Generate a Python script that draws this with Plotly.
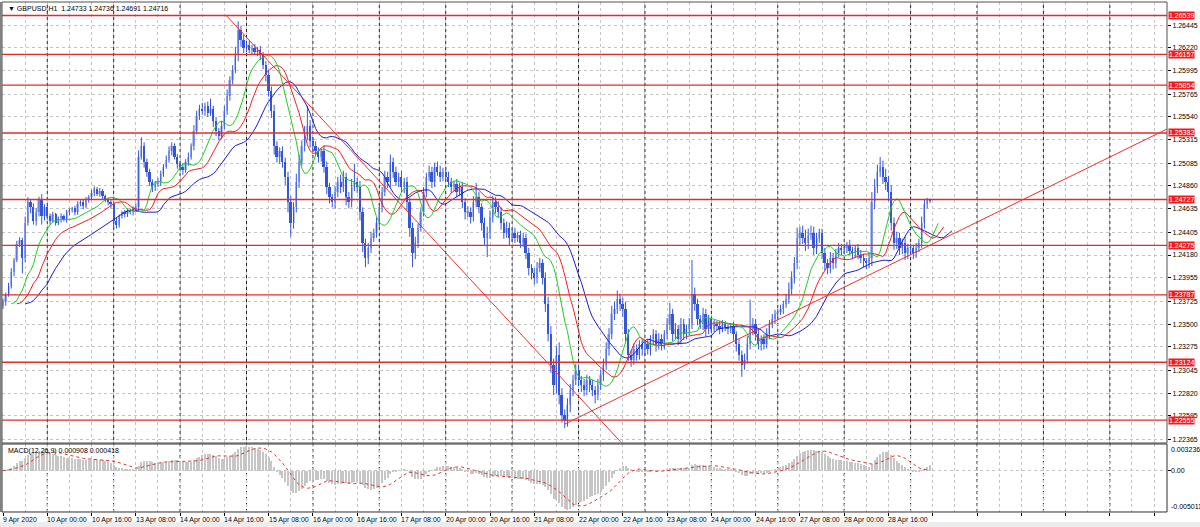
import numpy as np
import pandas as pd
import plotly.graph_objects as go

# ---------------- data (GBPUSD H1, prices as points above 1.20000) ----------------
BASE = 1.2
first_open_pts = 3680
close_pts = [
    3720, 3790, 3880, 4010, 4130, 4290, 4330, 4150,
    4500, 4700, 4650, 4520, 4600, 4720, 4560, 4650,
    4560, 4520, 4580, 4500, 4540, 4560, 4530, 4600,
    4620, 4640, 4600, 4680, 4700, 4660, 4720, 4750,
    4790, 4830, 4780, 4810, 4760, 4720, 4700, 4680,
    4520, 4480, 4560, 4600, 4580, 4620, 4600, 4640,
    4650, 5150, 5250, 5100, 5000, 4900, 4850, 4880,
    4900, 4980, 5050, 5120, 5200, 5250, 5150, 5080,
    5050, 5020, 5100, 5150, 5250, 5400, 5550, 5620,
    5600, 5650, 5580, 5620, 5500, 5400, 5350, 5450,
    5600, 5750, 5900, 6000, 6150, 6400, 6300, 6220,
    6250, 6200, 6220, 6180, 6200, 6150, 6050, 5950,
    5800, 5600, 5250, 5150, 5200, 5100, 4950, 4700,
    4500, 4650, 4900, 5100, 5250, 5350, 5450, 5300,
    5250, 5200, 5150, 5200, 5050, 4850, 4750, 4700,
    4800, 4900, 4850, 4950, 4750, 4700, 4850, 4900,
    4850, 4600, 4300, 4150, 4250, 4350, 4400, 4500,
    4650, 4800, 4950, 4900, 5100, 5000, 4900, 4950,
    4850, 4900, 4700, 4450, 4200, 4300, 4450, 4600,
    4800, 4950, 5000, 4900, 5050, 5000, 4950, 5000,
    4950, 4900, 4850, 4880, 4800, 4850, 4700, 4600,
    4600, 4550, 4700, 4750, 4650, 4500, 4350, 4400,
    4550, 4700, 4650, 4600, 4500, 4400, 4450, 4350,
    4400, 4350, 4380, 4300, 4350, 4200, 4050, 4000,
    3950, 4050, 4100, 3950, 3700, 3400, 3100, 2900,
    3200, 2800, 2600, 2550, 2700, 2850, 2950, 3050,
    2950, 2900, 2850, 2950, 2900, 2850, 2800, 2900,
    3000, 3100, 3250, 3400, 3600, 3650, 3750, 3700,
    3650, 3400, 3200, 3150, 3250, 3200, 3300, 3250,
    3300, 3250, 3350, 3400, 3300, 3350, 3300, 3400,
    3500, 3600, 3400, 3450, 3350, 3500, 3400, 3450,
    3500, 3800, 3700, 3550, 3500, 3600, 3450, 3550,
    3450, 3500, 3480, 3450, 3500, 3470, 3450, 3480,
    3400, 3300, 3200, 3100, 3150, 3300, 3450, 3500,
    3400, 3300, 3350, 3300, 3400, 3500, 3550, 3600,
    3620, 3650, 3700, 3750, 3850, 3950, 4100, 4350,
    4400, 4350, 4300, 4380, 4400, 4250, 4350, 4400,
    4200, 4100, 4050, 4150, 4100, 4200, 4250, 4230,
    4250, 4280, 4220, 4200, 4250, 4180, 4150, 4120,
    4100, 4150, 4700, 4850, 5000, 5050, 4950, 4900,
    4800, 4500, 4300, 4350, 4250, 4300, 4200, 4250,
    4250, 4200, 4250, 4300, 4500, 4680, 4733, 4716,
]
upper_wick_pts = [
    30, 20, 25, 40, 20, 30, 25, 20,
    60, 50, 30, 40, 45, 35, 60, 30,
    20, 30, 25, 15, 20, 30, 20, 25,
    20, 15, 25, 30, 20, 25, 30, 20,
    30, 25, 20, 30, 20, 15, 25, 20,
    30, 25, 20, 15, 25, 20, 15, 20,
    40, 60, 90, 40, 30, 30, 25, 30,
    40, 30, 25, 40, 50, 40, 30, 25,
    20, 30, 25, 40, 30, 60, 50, 40,
    60, 30, 40, 100, 30, 40, 30, 50,
    50, 60, 40, 50, 80, 80, 40, 50,
    30, 40, 30, 40, 30, 40, 30, 40,
    50, 40, 60, 50, 40, 50, 40, 50,
    60, 50, 80, 70, 60, 100, 200, 60,
    40, 50, 40, 30, 60, 50, 40, 30,
    60, 50, 70, 60, 40, 50, 80, 180,
    40, 60, 50, 40, 50, 60, 40, 50,
    40, 50, 60, 50, 70, 40, 50, 40,
    60, 40, 50, 40, 50, 60, 40, 50,
    50, 40, 60, 50, 40, 50, 60, 40,
    40, 50, 40, 30, 50, 40, 50, 40,
    60, 50, 60, 140, 50, 40, 50, 60,
    70, 60, 50, 60, 50, 40, 60, 50,
    40, 50, 30, 40, 50, 40, 50, 40,
    50, 60, 50, 40, 60, 70, 80, 60,
    80, 120, 70, 60, 70, 60, 50, 60,
    50, 40, 60, 50, 40, 50, 40, 60,
    50, 60, 70, 60, 80, 70, 80, 50,
    60, 70, 50, 40, 60, 50, 40, 50,
    40, 50, 40, 50, 40, 60, 50, 40,
    60, 110, 50, 60, 40, 60, 50, 40,
    60, 330, 60, 50, 40, 60, 50, 40,
    30, 40, 30, 50, 40, 30, 40, 30,
    40, 30, 50, 40, 60, 80, 290, 60,
    50, 60, 40, 50, 60, 40, 50, 40,
    30, 40, 30, 50, 60, 70, 60, 100,
    60, 70, 80, 60, 70, 60, 50, 40,
    40, 50, 40, 60, 50, 40, 50, 40,
    40, 30, 50, 40, 30, 40, 50, 40,
    30, 40, 100, 80, 70, 95, 60, 80,
    60, 70, 50, 60, 50, 40, 60, 40,
    40, 30, 50, 40, 60, 50, 10, 3,
]
lower_wick_pts = [
    30, 40, 20, 30, 40, 20, 30, 150,
    40, 30, 60, 40, 50, 40, 80, 40,
    30, 40, 20, 30, 25, 40, 20, 30,
    30, 20, 30, 25, 20, 30, 20, 25,
    25, 30, 20, 25, 30, 20, 30, 40,
    70, 40, 30, 20, 30, 25, 20, 30,
    30, 40, 30, 60, 50, 40, 50, 40,
    30, 40, 30, 20, 30, 40, 30, 50,
    40, 50, 30, 40, 30, 40, 30, 40,
    40, 50, 40, 30, 60, 50, 40, 30,
    30, 40, 50, 40, 30, 60, 70, 50,
    40, 30, 40, 30, 40, 50, 40, 60,
    60, 70, 80, 60, 70, 60, 80, 100,
    140, 60, 50, 60, 40, 50, 40, 60,
    50, 40, 60, 50, 60, 70, 60, 50,
    60, 50, 60, 50, 80, 60, 50, 40,
    60, 80, 90, 90, 60, 50, 40, 50,
    40, 50, 40, 60, 50, 60, 40, 50,
    50, 60, 80, 90, 140, 60, 50, 40,
    40, 50, 40, 60, 50, 40, 50, 40,
    40, 50, 60, 40, 50, 40, 60, 70,
    50, 60, 40, 50, 60, 80, 70, 190,
    60, 50, 60, 50, 70, 60, 50, 70,
    40, 50, 40, 50, 40, 60, 70, 60,
    60, 50, 40, 60, 80, 70, 80, 100,
    80, 90, 70, 75, 60, 70, 60, 50,
    60, 70, 60, 50, 70, 60, 80, 50,
    50, 60, 50, 60, 50, 60, 50, 70,
    80, 70, 60, 70, 50, 60, 50, 60,
    60, 50, 60, 50, 70, 50, 60, 50,
    50, 60, 70, 50, 60, 50, 60, 50,
    60, 50, 70, 60, 50, 60, 70, 50,
    40, 30, 40, 50, 30, 40, 50, 40,
    60, 70, 60, 120, 50, 40, 50, 60,
    60, 50, 60, 50, 40, 50, 40, 50,
    40, 30, 50, 40, 50, 60, 50, 60,
    70, 60, 80, 60, 50, 70, 60, 50,
    60, 70, 60, 50, 60, 50, 40, 50,
    40, 50, 40, 60, 50, 40, 50, 60,
    60, 50, 80, 70, 60, 50, 70, 80,
    90, 80, 70, 60, 70, 60, 70, 60,
    50, 60, 50, 40, 50, 60, 40, 25,
]

time_labels = ["9 Apr 2020", "10 Apr 00:00", "10 Apr 16:00", "13 Apr 08:00", "14 Apr 00:00",
               "14 Apr 16:00", "15 Apr 08:00", "16 Apr 00:00", "16 Apr 16:00", "17 Apr 08:00",
               "20 Apr 00:00", "20 Apr 16:00", "21 Apr 08:00", "22 Apr 00:00", "22 Apr 16:00",
               "23 Apr 08:00", "24 Apr 00:00", "24 Apr 16:00", "27 Apr 08:00", "28 Apr 00:00",
               "28 Apr 16:00"]
label_step = 16
day_start_bar = 16  # first midnight bar (10 Apr 00:00)

level_values = [1.26539, 1.26157, 1.25854, 1.25382, 1.24727, 1.24275, 1.23787, 1.23124, 1.22555]
price_ticks = [1.22365, 1.22595, 1.22820, 1.23045, 1.23275, 1.23500, 1.23725, 1.23955, 1.24180,
               1.24405, 1.24635, 1.24860, 1.25085, 1.25315, 1.25540, 1.25765, 1.25995, 1.26220, 1.26445]
macd_scale_labels = [0.003236, 0.0, -0.005011]

trend_down_bar = [80.5, 223.2]
trend_down_price = [1.26545, 1.22340]
trend_up_bar = [203.1, 420.66]
trend_up_price = [1.22516, 1.25421]

title_text = "▼ GBPUSD,H1  1.24733 1.24736 1.24691 1.24716"
macd_text = "MACD(12,26,9) 0.000908 0.000418"

# ---------------- derived ----------------
n = len(close_pts)
idx = np.arange(n)
close = BASE + np.array(close_pts) / 1e5
opn = np.concatenate([[BASE + first_open_pts / 1e5], close[:-1]])
top = np.maximum(opn, close)
bot = np.minimum(opn, close)
high = top + np.array(upper_wick_pts) / 1e5
low = bot - np.array(lower_wick_pts) / 1e5
body = np.maximum(top - bot, 0.00004)
up = close >= opn

median = pd.Series((high + low) / 2)
def smma(s, p):
    return s.ewm(alpha=1.0 / p, adjust=False).mean().values

jaw, teeth, lips = smma(median, 13), smma(median, 8), smma(median, 5)

cs = pd.Series(close)
macd_main = (cs.ewm(span=12, adjust=False).mean() - cs.ewm(span=26, adjust=False).mean()).values
macd_sig = pd.Series(macd_main).rolling(9, min_periods=1).mean().values

# ---------------- figure ----------------
fig = go.Figure()

wx, wy = [], []
for i in range(n):
    wx += [i, i, None]
    wy += [low[i], high[i], None]
fig.add_trace(go.Scatter(x=wx, y=wy, mode="lines", line=dict(color="#3556d8", width=1),
                         hoverinfo="skip", yaxis="y"))
fig.add_trace(go.Bar(x=idx[up], y=body[up], base=bot[up], width=0.72, yaxis="y",
                     marker=dict(color="#b3c3f4", line=dict(width=0))))
fig.add_trace(go.Bar(x=idx[~up], y=body[~up], base=bot[~up], width=0.72, yaxis="y",
                     marker=dict(color="#3556d8", line=dict(width=0))))

fig.add_trace(go.Scatter(x=idx + 8, y=jaw, mode="lines", line=dict(color="#1c1cd0", width=1), yaxis="y"))
fig.add_trace(go.Scatter(x=idx + 5, y=teeth, mode="lines", line=dict(color="#ee2020", width=1), yaxis="y"))
fig.add_trace(go.Scatter(x=idx + 3, y=lips, mode="lines", line=dict(color="#22cc22", width=1), yaxis="y"))

fig.add_trace(go.Bar(x=idx, y=macd_main, width=0.4, yaxis="y2",
                     marker=dict(color="#c6c6c6", line=dict(width=0))))
fig.add_trace(go.Scatter(x=idx, y=macd_sig, mode="lines", yaxis="y2",
                         line=dict(color="#e03030", width=1, dash="dot")))

X0, X1 = -0.36, 420.66
dom_main = [0.13699, 1.0]
dom_macd = [0.00196, 0.13503]

shapes = []
d = day_start_bar
while d <= X1:
    shapes.append(dict(type="line", xref="x", yref="paper", x0=d, x1=d, y0=dom_macd[0], y1=1,
                       line=dict(color="#202020", width=1, dash="dot"), layer="below"))
    d += 24
for lv in level_values:
    shapes.append(dict(type="line", xref="paper", yref="y", x0=0, x1=1, y0=lv, y1=lv,
                       line=dict(color="#e62a2a", width=1.3), layer="above"))
shapes.append(dict(type="line", xref="x", yref="y", x0=trend_down_bar[0], x1=trend_down_bar[1],
                   y0=trend_down_price[0], y1=trend_down_price[1], line=dict(color="#ee3030", width=1)))
shapes.append(dict(type="line", xref="x", yref="y", x0=trend_up_bar[0], x1=trend_up_bar[1],
                   y0=trend_up_price[0], y1=trend_up_price[1], line=dict(color="#ee3030", width=1)))
shapes.append(dict(type="rect", xref="paper", yref="paper", x0=0, x1=1, y0=dom_main[0], y1=dom_main[1],
                   line=dict(color="#505050", width=1)))
shapes.append(dict(type="rect", xref="paper", yref="paper", x0=0, x1=1, y0=dom_macd[0], y1=dom_macd[1],
                   line=dict(color="#303030", width=1)))
shapes.append(dict(type="rect", xref="paper", yref="paper", x0=-0.0017, x1=0, y0=dom_macd[0], y1=1,
                   fillcolor="#808080", line=dict(width=0)))
shapes.append(dict(type="rect", xref="paper", yref="paper", x0=-0.002, x1=1.03, y0=-0.0274, y1=-0.0176,
                   fillcolor="#ececec", line=dict(width=0)))

annotations = []
FONT = "Liberation Sans"
for k, t in enumerate(time_labels):
    annotations.append(dict(x=k * label_step, xref="x", y=0, yref="paper", text=t, showarrow=False,
                            xanchor="left", yanchor="top", yshift=-1, xshift=-2,
                            font=dict(size=7, color="#000", family=FONT)))
for lv in level_values:
    annotations.append(dict(x=1, xref="paper", y=lv, yref="y", text=f"{lv:.5f}", showarrow=False,
                            xanchor="left", yanchor="middle", xshift=1, bgcolor="#f01c1c",
                            borderpad=0, font=dict(size=7, color="#ffffff", family=FONT)))
annotations.append(dict(x=1, xref="paper", y=1, yref="y2 domain", text=f"{macd_scale_labels[0]:.6f}",
                        showarrow=False, xanchor="left", yanchor="top", xshift=2,
                        font=dict(size=7, color="#000", family=FONT)))
annotations.append(dict(x=1, xref="paper", y=macd_scale_labels[1], yref="y2", text="0.00",
                        showarrow=False, xanchor="left", yanchor="middle", xshift=2,
                        font=dict(size=7, color="#000", family=FONT)))
annotations.append(dict(x=1, xref="paper", y=0, yref="y2 domain", text=f"{macd_scale_labels[2]:.6f}",
                        showarrow=False, xanchor="left", yanchor="bottom", xshift=2,
                        font=dict(size=7, color="#000", family=FONT)))
annotations.append(dict(x=0, xref="paper", y=1, yref="paper", text=title_text, showarrow=False,
                        xanchor="left", yanchor="top", xshift=4, yshift=-1,
                        font=dict(size=7, color="#000", family=FONT)))
annotations.append(dict(x=0, xref="paper", y=1, yref="y2 domain", text=macd_text, showarrow=False,
                        xanchor="left", yanchor="top", xshift=4, yshift=-1,
                        font=dict(size=7, color="#000", family=FONT)))

grid_c = "#c4c4c4"
fig.update_layout(
    width=1200, height=527, margin=dict(l=2, r=28, t=2, b=14),
    paper_bgcolor="white", plot_bgcolor="white", showlegend=False,
    barmode="overlay", bargap=0, hovermode=False,
    font=dict(family=FONT, size=7, color="#000"),
    shapes=shapes, annotations=annotations,
    xaxis=dict(range=[X0, X1], anchor="y2", tickmode="linear", tick0=0, dtick=label_step,
               ticks="outside", ticklen=3, tickcolor="#000", showticklabels=False,
               showgrid=True, gridcolor=grid_c, griddash="dot", gridwidth=1, zeroline=False,
               minor=dict(tick0=0, dtick=8, showgrid=True, gridcolor=grid_c, griddash="dot", ticks="")),
    yaxis=dict(domain=dom_main, range=[1.22329, 1.26672], side="right", anchor="x",
               tickmode="array", tickvals=price_ticks, ticktext=[f"{v:.5f}" for v in price_ticks],
               ticks="outside", ticklen=3, tickcolor="#000", tickfont=dict(size=7, family=FONT),
               showgrid=True, gridcolor=grid_c, griddash="dot", zeroline=False),
    yaxis2=dict(domain=dom_macd, range=[-0.005011, 0.003236], side="right", anchor="x",
                tickmode="array", tickvals=[0.0], showticklabels=False, ticks="outside", ticklen=3,
                tickcolor="#000", showgrid=True, gridcolor=grid_c, griddash="dot", zeroline=False),
)

fig.write_html("out.html", config={"displayModeBar": False},
               post_script="document.body.style.margin='0';document.body.style.overflow='hidden';")
